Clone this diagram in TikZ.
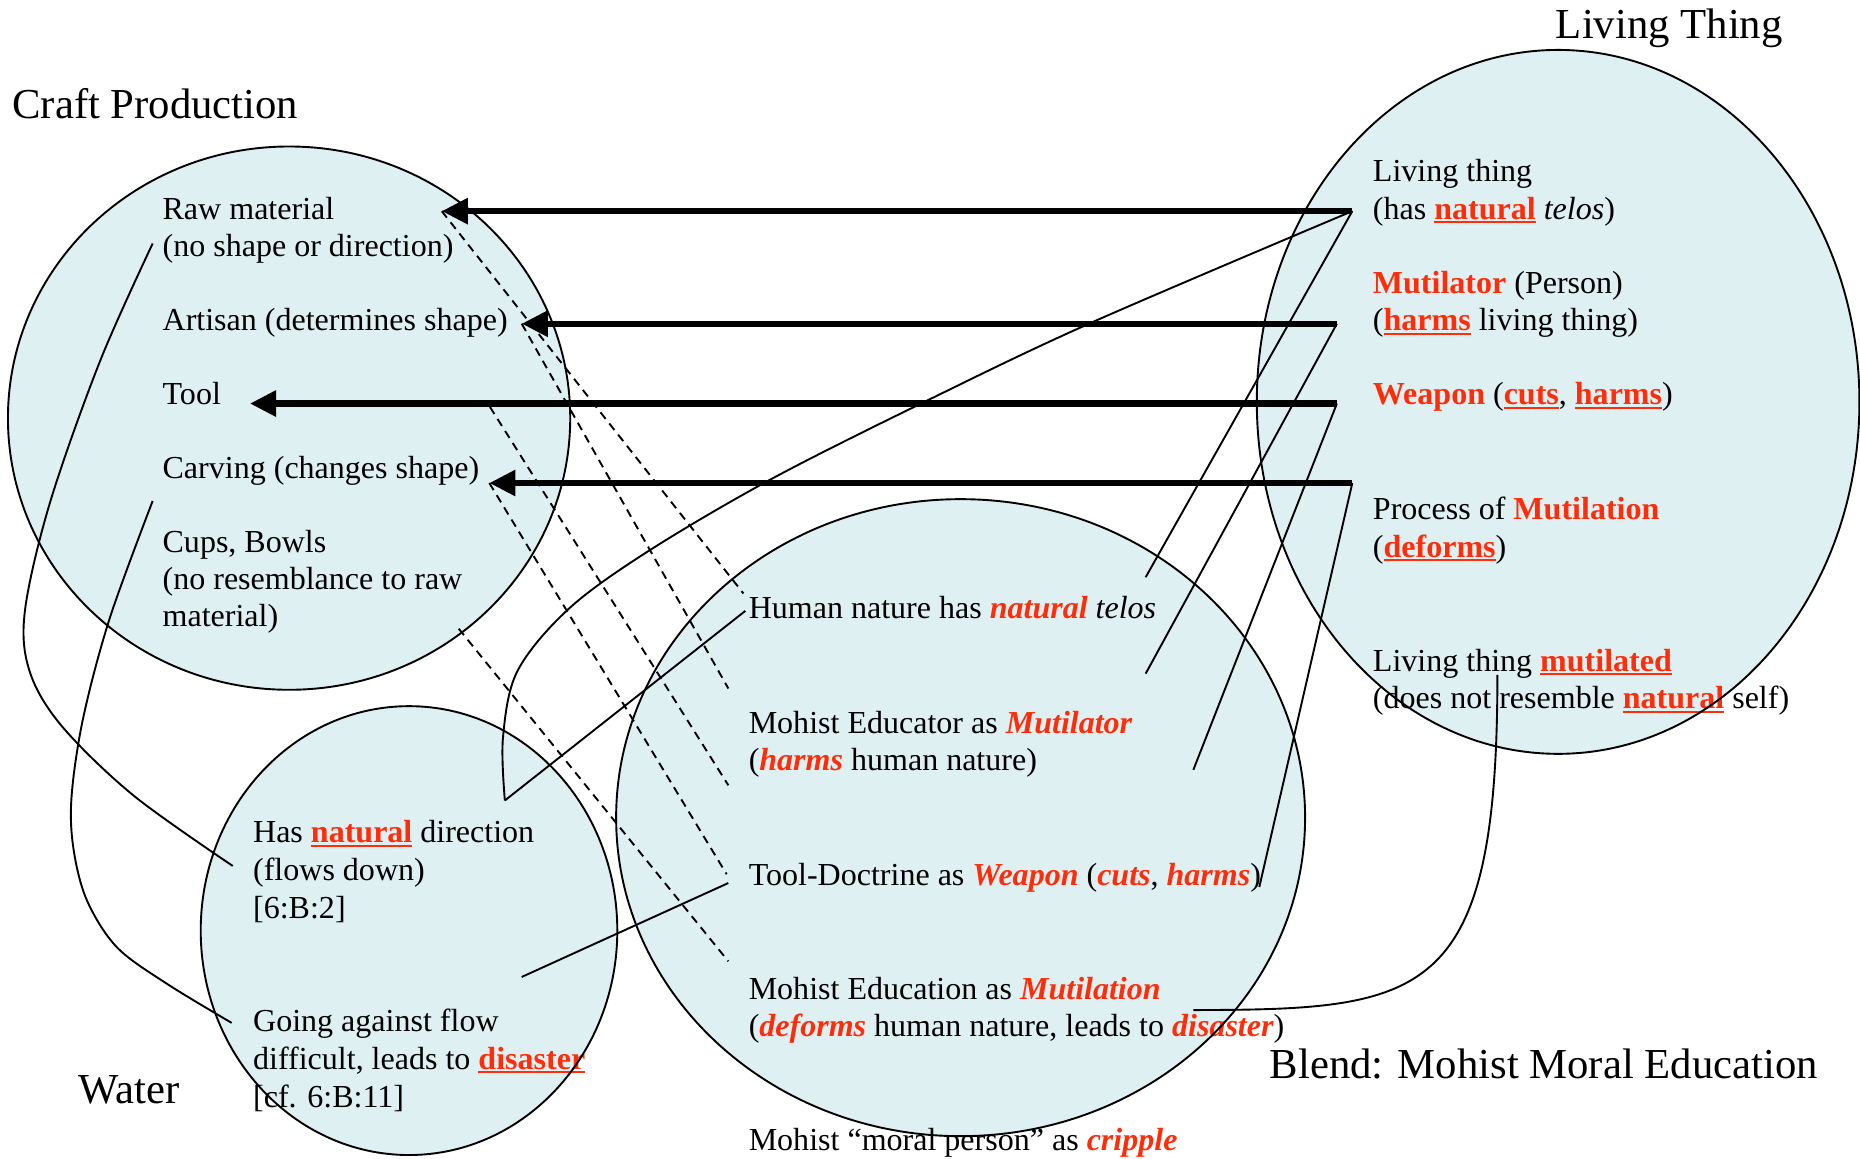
\documentclass[tikz,border=0pt]{standalone}
\usepackage{fontspec}
\setmainfont{Liberation Serif}
\usetikzlibrary{arrows.meta}

\definecolor{blobfill}{RGB}{223,240,243}
\definecolor{hot}{RGB}{255,45,10}

% red bold underlined term
\newcommand{\hotul}[1]{\setbox0\hbox{\bfseries #1}\rlap{\color{hot}\rule[-1.7pt]{\wd0}{0.9pt}}{\color{hot}\bfseries #1}}
% red bold term
\newcommand{\hotb}[1]{{\color{hot}\bfseries #1}}
% red bold italic term
\newcommand{\hotbi}[1]{{\color{hot}\bfseries\itshape #1}}

\tikzset{
  body/.style={anchor=base west, inner sep=0pt, font=\fontsize{13.5pt}{15.75pt}\selectfont},
  heading/.style={anchor=base west, inner sep=0pt, font=\fontsize{18pt}{21pt}\selectfont},
  blob/.style={fill=blobfill},
  rim/.style={draw=black, line width=0.8pt},
  mapping/.style={line width=2.6pt, -{Triangle[length=11pt,width=10.5pt]}},
  link/.style={line width=0.8pt},
  corr/.style={line width=0.8pt, dash pattern=on 3.5pt off 2.5pt},
}

\begin{document}
\begin{tikzpicture}[x=0.5pt,y=-0.5pt]
\fill[white] (0,0) rectangle (1568,977);
\useasboundingbox (0,0) rectangle (1568,977);

% ---- the four mental spaces (fills) ----
\fill[blob] (243.7,352.5) ellipse [x radius=237, y radius=229];
\fill[blob] (1313.5,338.8) ellipse [x radius=254, y radius=296.7];
\fill[blob] (344.8,784.5) ellipse [x radius=175.6, y radius=189.2];
\fill[blob] (809.8,689.3) ellipse [x radius=290.4, y radius=268.5];

% ---- headings ----
\node[heading] (tcraft)  at (10,100)    {Craft Production};
\node[heading] (tliving) at (1311.3,32.7) {Living Thing};
\node[heading] (twater)  at (66,930)    {Water};
\node[heading] (tblend)  at (1070,909)  {Blend: Mohist Moral Education};

% ---- craft production ----
\node[body] (raw)   at (136.7,184.7) {Raw material};
\node[body] (raw2)  at (136.7,215.9) {(no shape or direction)};
\node[body] (art)   at (136.7,278.3) {Artisan (determines shape)};
\node[body] (tool)  at (136.7,340.7) {Tool};
\node[body] (carv)  at (136.7,403.1) {Carving (changes shape)};
\node[body] (cups)  at (136.7,465.5) {Cups, Bowls};
\node[body] (cups2) at (136.7,496.7) {(no resemblance to raw};
\node[body] (cups3) at (136.7,527.9) {material)};

% ---- living thing ----
\node[body] (lt1)  at (1157,153.2) {Living thing};
\node[body] (lt2)  at (1157,184.7) {(has \hotul{natural} \textit{telos})};
\node[body] (mut1) at (1157,247.2) {\hotb{Mutilator} (Person)};
\node[body] (mut2) at (1157,279)   {(\hotul{harms} living thing)};
\node[body] (weap) at (1157,341.2) {\hotb{Weapon} (\hotul{cuts}, \hotul{harms})};
\node[body] (proc1) at (1157,438)  {Process of \hotb{Mutilation}};
\node[body] (proc2) at (1157,469.9) {(\hotul{deforms})};
\node[body] (mtd1) at (1157,566)   {Living thing \hotul{mutilated}};
\node[body] (mtd2) at (1157,597.4) {(does not resemble \hotul{natural} self)};

% ---- water ----
\node[body] (w1) at (213,710.4) {Has \hotul{natural} direction};
\node[body] (w2) at (213,741.9) {(flows down)};
\node[body] (w3) at (213,774.2) {[6:B:2]};
\node[body] (w4) at (213,869.7) {Going against flow};
\node[body] (w5) at (213,901.5) {difficult, leads to \hotul{disaster}};
\node[body] (w6) at (213,933.5) {[cf. 6:B:11]};

% ---- blend ----
\node[body] (b1) at (630.8,521)   {Human nature has \hotbi{natural} \textit{telos}};
\node[body] (b2) at (630.8,618.6) {Mohist Educator as \hotbi{Mutilator}};
\node[body] (b3) at (630.8,649.2) {(\hotbi{harms} human nature)};
\node[body] (b4) at (630.8,746.5) {Tool-Doctrine as \hotbi{Weapon} (\hotbi{cuts}, \hotbi{harms})};
\node[body] (b5) at (630.8,842.5) {Mohist Education as \hotbi{Mutilation}};
\node[body] (b6) at (630.8,874)   {(\hotbi{deforms} human nature, leads to \hotbi{disaster})};
\node[body] (b7) at (630.8,969.7) {Mohist “moral person” as \hotbi{cripple}};

% ---- outlines of the spaces ----
\draw[rim] (243.7,352.5) ellipse [x radius=237, y radius=229];
\draw[rim] (1313.5,338.8) ellipse [x radius=254, y radius=296.7];
\draw[rim] (344.8,784.5) ellipse [x radius=175.6, y radius=189.2];
\draw[rim] (809.8,689.3) ellipse [x radius=290.4, y radius=268.5];

% ---- connector end points ----
\coordinate (a1r) at (1140,178);   \coordinate (a1t) at (372.4,178);
\coordinate (a2r) at (1127,272.9); \coordinate (a2t) at (439.8,272.9);
\coordinate (a3r) at (1127,340.2); \coordinate (a3t) at (210.7,340.2);
\coordinate (a4r) at (1140,407.2); \coordinate (a4t) at (412.5,407.2);

\coordinate (d1e) at (626.7,500.3);
\coordinate (d2e) at (614,580.4);
\coordinate (d3s) at (413,343);   \coordinate (d3e) at (614,662);
\coordinate (d4e) at (612.6,737);
\coordinate (d5s) at (386.7,530); \coordinate (d5e) at (614,810.4);

\coordinate (r1e) at (965.8,486.6);
\coordinate (r2e) at (965.8,567.9);
\coordinate (r3e) at (1006,649);
\coordinate (r4e) at (1061.6,747.8);

\coordinate (wapex) at (425.6,674.8);
\coordinate (hn)    at (628.3,515);
\coordinate (wl1)   at (439.8,823.6);
\coordinate (wl2)   at (614,744.4);

\coordinate (m1) at (1262.3,569);
\coordinate (m2) at (1006,851.5);

\coordinate (l1s) at (128.7,205.3); \coordinate (l1e) at (196.2,730);
\coordinate (l2s) at (128.7,422.3); \coordinate (l2e) at (195.3,862.3);

% ---- input-space mappings (living thing -> craft) ----
\draw[mapping] (a1r) -- (a1t);
\draw[mapping] (a2r) -- (a2t);
\draw[mapping] (a3r) -- (a3t);
\draw[mapping] (a4r) -- (a4t);

% ---- craft -> blend projections ----
\draw[corr] (a1t) -- (d1e);
\draw[corr] (a2t) -- (d2e);
\draw[corr] (d3s) -- (d3e);
\draw[corr] (a4t) -- (d4e);
\draw[corr] (d5s) -- (d5e);

% ---- living thing -> blend projections ----
\draw[link] (a1r) -- (r1e);
\draw[link] (a2r) -- (r2e);
\draw[link] (a3r) -- (r3e);
\draw[link] (a4r) -- (r4e);
\draw[link] (m1) .. controls (1262.5,845) and (1200,851) .. (m2);

% ---- natural telos / natural direction ----
\draw[link] plot[smooth, tension=0.55] coordinates {(a1r) (920,272) (784.6,336.2) (651.6,403.1) (547.5,464) (479.7,513) (436.2,565.7) (424,622) (wapex)};
\draw[link] (wapex) -- (hn);

% ---- water -> blend ----
\draw[link] (wl1) -- (wl2);

% ---- craft -> water ----
\draw[link] plot[smooth, tension=0.55] coordinates {(l1s) (84.3,304.5) (42.2,423.5) (21,515) (25,566) (52,612) (112.4,670.5) (l1e)};
\draw[link] plot[smooth, tension=0.55] coordinates {(l2s) (92.7,520.6) (70.3,604.4) (60.4,670.5) (61.8,714.6) (73.1,758.6) (98.4,798.4) (140.5,829.2) (l2e)};
\end{tikzpicture}
\end{document}
